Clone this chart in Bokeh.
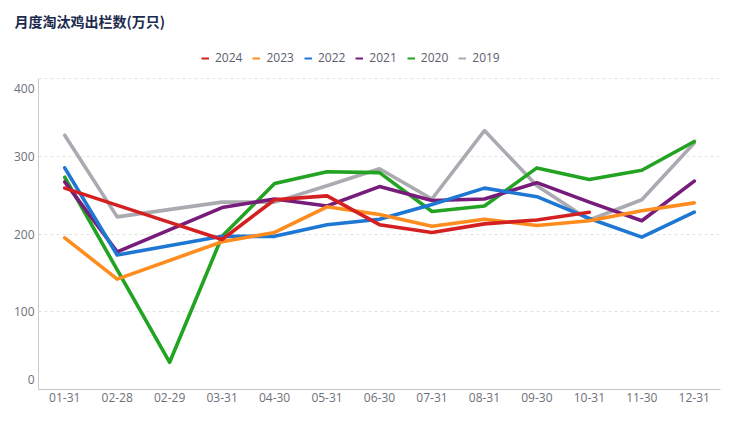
from bokeh.plotting import figure
from bokeh.models import Range1d, FixedTicker, Legend, LegendItem
from bokeh.embed import file_html
from bokeh.resources import INLINE

title = "月度淘汰鸡出栏数(万只)"
categories = ["01-31", "02-28", "02-29", "03-31", "04-30", "05-31", "06-30",
              "07-31", "08-31", "09-30", "10-31", "11-30", "12-31"]
y_ticks = [0, 100, 200, 300, 400]

s2024 = [259, None, 215, 193, 244, 249, 212, 202, 213, 218, 228, None, None]
s2023 = [195, 142, None, 190, 202, 235, 225, 210, 219, 211, 217, 230, 240]
s2022 = [285, 173, None, 197, 197, 212, 219, 238, 259, 248, 220, 196, 228]
s2021 = [267, 177, None, 234, 245, 236, 261, 243, 245, 266, 241, 217, 268]
s2020 = [273, None, 35, 197, 265, 280, 279, 229, 236, 285, 270, 282, 319]
s2019 = [327, 222, None, 241, 241, 262, 284, 245, 333, 262, 218, 244, 317]

names = ["2024", "2023", "2022", "2021", "2020", "2019"]
series = [s2024, s2023, s2022, s2021, s2020, s2019]
colors = ["#d42020", "#ff8c1f", "#1f77d4", "#771c7b", "#22a322", "#aaaab0"]

FONT = "Open Sans"
CJK = "Noto Sans CJK SC"

FRAME_H = 359
PLOT_H = 311  # pixels for 0..400
y_top = y_ticks[-1] * FRAME_H / PLOT_H  # extra headroom for the legend

p = figure(x_range=categories, y_range=Range1d(0, y_top),
           frame_width=682, frame_height=FRAME_H,
           min_border_left=38, min_border_right=14, min_border_top=30, min_border_bottom=32,
           output_backend="svg", toolbar_location=None)
p.outline_line_color = None
p.background_fill_color = "white"
p.border_fill_color = "white"

p.title.text = title
p.title.align = "left"
p.title.offset = -24
p.title.standoff = 0
p.title.text_font = CJK
p.title.text_font_size = "14px"
p.title.text_font_style = "bold"
p.title.text_color = "#1c2a4d"

p.xgrid.grid_line_color = None
p.ygrid.ticker = FixedTicker(ticks=y_ticks[1:])
p.ygrid.grid_line_color = "#e3e3e3"
p.ygrid.grid_line_dash = "3 3"
p.ygrid.grid_line_width = 1

p.yaxis.ticker = FixedTicker(ticks=y_ticks)
p.yaxis.bounds = (y_ticks[0], y_ticks[-1])
p.yaxis.axis_line_color = "#cccccc"
p.yaxis.major_tick_line_color = None
p.yaxis.minor_tick_line_color = None
p.yaxis.major_tick_out = 0
p.yaxis.major_tick_in = 0
p.yaxis.major_label_standoff = 4
p.yaxis.major_label_text_font = FONT
p.yaxis.major_label_text_font_size = "12px"
p.yaxis.major_label_text_color = "#6e7079"
p.yaxis.major_label_overrides = {y_ticks[0]: str(y_ticks[0]) + "\n",
                                 y_ticks[-1]: "\n" + str(y_ticks[-1])}

p.xaxis.axis_line_color = "#c4c4c4"
p.xaxis.major_tick_line_color = None
p.xaxis.minor_tick_line_color = None
p.xaxis.major_tick_out = 0
p.xaxis.major_tick_in = 0
p.xaxis.major_label_text_font = FONT
p.xaxis.major_label_text_font_size = "12px"
p.xaxis.major_label_text_color = "#6e7079"
p.xaxis.major_label_standoff = 3

# data lines (2019 drawn first, 2024 on top)
for name, vals, col in reversed(list(zip(names, series, colors))):
    xs = [c for c, v in zip(categories, vals) if v is not None]
    ys = [v for v in vals if v is not None]
    p.line(xs, ys, line_color=col, line_width=3.6, line_join="round", line_cap="round")

# legend with thin markers (proxy renderers holding one invisible NaN point)
items = []
for name, col in zip(names, colors):
    r = p.line(x=[categories[0]], y=[float("nan")], line_color=col, line_width=2)
    items.append(LegendItem(label=name, renderers=[r]))
legend = Legend(items=items, orientation="horizontal", location=(163, 323),
                glyph_width=8, glyph_height=14, label_height=14, label_standoff=6,
                spacing=10, padding=0, margin=0, border_line_color=None,
                background_fill_alpha=0, label_text_font=FONT,
                label_text_font_size="12px", label_text_color="#5b5e6b")
p.add_layout(legend, "center")

open("out.html", "w").write(file_html(p, INLINE))
